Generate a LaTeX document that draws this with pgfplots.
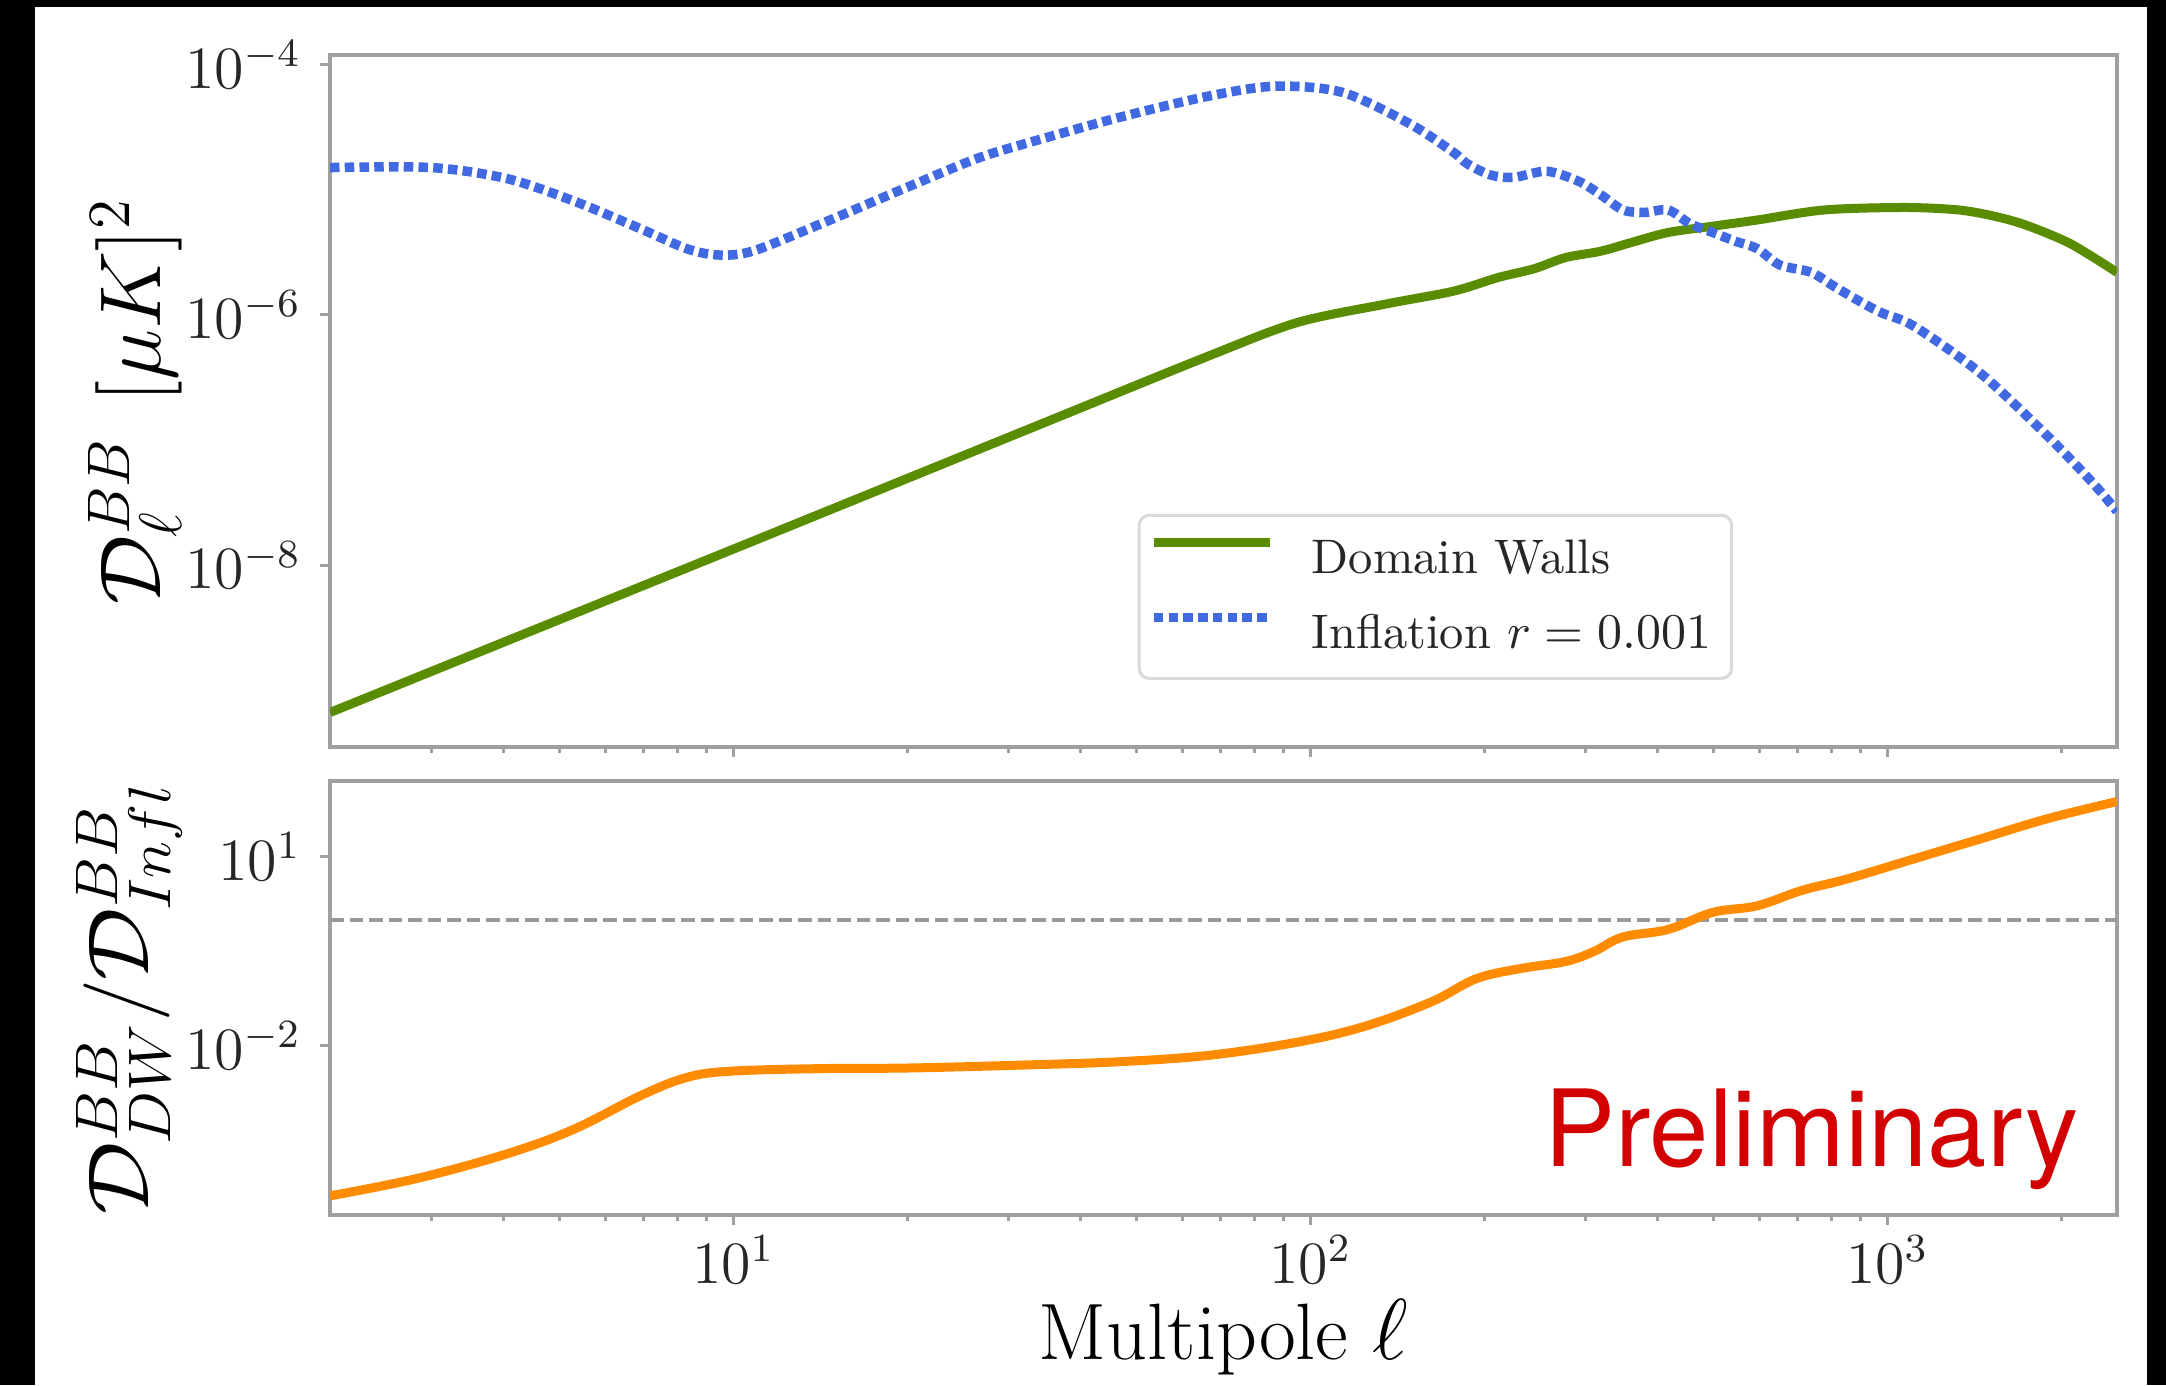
\documentclass[border=0pt]{standalone}
\usepackage{fontspec}
\usepackage{graphicx}
\usepackage{pgfplots}
\pgfplotsset{compat=1.18}
\newfontfamily\prelimfont{TeX Gyre Heros}
\definecolor{dwgreen}{RGB}{90,140,0}
\definecolor{inflblue}{RGB}{65,105,225}
\definecolor{ratioorange}{RGB}{255,140,0}
\definecolor{prelimred}{RGB}{210,0,0}
\definecolor{framegray}{RGB}{160,160,160}
\pgfplotsset{
  mypanel/.style={
    scale only axis,
    width=357.4pt,
    xmin=2, xmax=2500,
    axis line style={framegray, line width=0.7pt},
    tick pos=left,
    tick align=outside,
    major tick length=2pt,
    minor tick length=1.2pt,
    tick style={framegray, line width=0.6pt},
    xtick={10,100,1000},
    minor xtick={3,4,5,6,7,8,9,20,30,40,50,60,70,80,90,200,300,400,500,600,700,800,900,2000},
    tick label style={font=\fontsize{11.6}{13}\selectfont, text=black!85, inner sep=0pt},
    yticklabel style={xshift=-3.6pt},
    xticklabel style={yshift=-2pt},
    ylabel style={font=\fontsize{16.5}{19}\selectfont, inner sep=0pt, at={(axis description cs:-0.0823,0.5)}, anchor=south},
    xlabel style={font=\fontsize{16}{19}\selectfont, inner sep=0pt},
  }
}
\begin{document}
\begin{tikzpicture}
\path[use as bounding box] (0,0) rectangle (433.2pt,277pt);
\fill[white] (0,0) rectangle (433.2pt,277pt);
\fill[black] (0,0) rectangle (7pt,277pt);
\fill[black] (0,275.6pt) rectangle (433.2pt,277pt);
\fill[black] (429.4pt,0) rectangle (433.2pt,277pt);

\begin{loglogaxis}[mypanel, at={(66pt,127.6pt)}, anchor=south west, height=138.4pt,
  ymin=3.5e-10, ymax=1.2e-4,
  ytick={1e-8,1e-6,1e-4},
  yticklabels={$10^{-8}$,$10^{-6}$,$10^{-4}$},
  xticklabels={,,},
  ylabel={$\mathcal{D}_\ell^{BB}$\hspace{7pt}$[\mu K]^2$},
  legend cell align=left,
  legend image code/.code={\draw[#1] (0pt,3.4pt) -- (23.2pt,3.4pt);},
  legend style={at={(rel axis cs:0.452,0.337)}, anchor=north west, draw=black!15,
    rounded corners=2pt, line width=0.6pt, fill=white,
    font=\fontsize{9.7}{12}\selectfont, text=black!85,
    inner xsep=2pt, inner ysep=1.9pt, row sep=1.2pt, column sep=5.4pt,
    nodes={inner xsep=2pt, inner ysep=1.5pt, text height=8.2pt, text depth=2.6pt}},
]
\addplot[dwgreen, line width=1.8pt, smooth, tension=0.5, line join=round] coordinates {
(2,6.61e-10) (10,1.34e-8) (32.6,1.23e-7) (66.5,4.68e-7) (95,8.71e-7)
(136,1.23e-6) (177,1.55e-6) (212,2.00e-6)
(244,2.34e-6) (277,2.88e-6) (319,3.24e-6) (360,3.80e-6) (417,4.57e-6)
(498,5.13e-6) (595,5.75e-6) (778,6.92e-6) (1072,7.24e-6) (1328,6.92e-6)
(1531,6.17e-6) (1735,5.25e-6) (2075,3.72e-6) (2500,2.19e-6)
};
\addlegendentry{Domain Walls}
\addplot[inflblue, line width=1.9pt, dash pattern=on 1.9pt off 1.05pt, smooth, tension=0.5] coordinates {
(2,1.51e-5) (3,1.51e-5) (4.06,1.23e-5) (5.3,8.13e-6) (6.9,4.90e-6)
(8.3,3.39e-6) (9.4,3.02e-6) (10.8,3.24e-6) (14.2,5.37e-6) (20.2,1.07e-5)
(26.4,1.78e-5) (32.6,2.40e-5) (46.6,3.80e-5) (66.5,5.62e-5) (86.9,6.76e-5)
(113.7,6.03e-5) (148.6,3.39e-5) (177,2.0e-5) (187,1.62e-5) (205,1.32e-5)
(225,1.26e-5) (257,1.41e-5) (292,1.17e-5) (319,9.12e-6) (348,6.92e-6)
(380,6.61e-6) (417,6.92e-6) (455,5.37e-6) (498,4.57e-6) (545,3.89e-6)
(595,3.39e-6) (651,2.51e-6) (738,2.19e-6) (821,1.62e-6) (964,1.07e-6)
(1112,8.13e-7) (1453,3.39e-7) (1897,1.07e-7) (2266,4.57e-8) (2500,2.69e-8)
};
\addlegendentry{Inflation $r=0.001$}
\end{loglogaxis}

\begin{loglogaxis}[mypanel, at={(66pt,34pt)}, anchor=south west, height=86.8pt,
  ymin=2.07e-5, ymax=160.7,
  ytick={1e-2,1e1},
  yticklabels={$10^{-2}$,$10^{1}$},
  xticklabels={$10^{1}$,$10^{2}$,$10^{3}$},
  xlabel={Multipole $\ell$},
  xlabel style={at={(axis description cs:0.5,-0.334)}, anchor=base},
  ylabel={\scalebox{1.05}[1]{$\mathcal{D}^{BB}_{DW}/\mathcal{D}^{BB}_{Infl}$}},
]
\addplot[black!40, line width=0.9pt, dash pattern=on 2.7pt off 1.2pt] coordinates {(2,1) (2500,1)};
\addplot[ratioorange, line width=1.8pt, smooth, tension=0.6, line join=round] coordinates {
(2,4.17e-5) (2.84,7.94e-5) (4.06,1.95e-4) (5.3,4.79e-4) (6.9,1.62e-3)
(8.3,3.16e-3) (9.9,3.98e-3) (14.2,4.37e-3) (20.2,4.47e-3) (32.6,5.01e-3)
(46.6,5.62e-3) (66.5,7.08e-3) (95,1.15e-2) (124,2.04e-2) (162,5.01e-2)
(194,0.117) (232,0.170) (277,0.219) (310,0.316) (348,0.537)
(417,0.708) (498,1.32) (595,1.68) (711,2.95) (851,4.47)
(1112,9.33) (1453,19.5) (1897,40.7) (2500,75.9)
};
\node[anchor=base west, text=prelimred, font=\prelimfont\fontsize{21.3}{24}\selectfont, inner sep=0pt] at (rel axis cs:0.679,0.111) {Preliminary};
\end{loglogaxis}
\end{tikzpicture}
\end{document}
